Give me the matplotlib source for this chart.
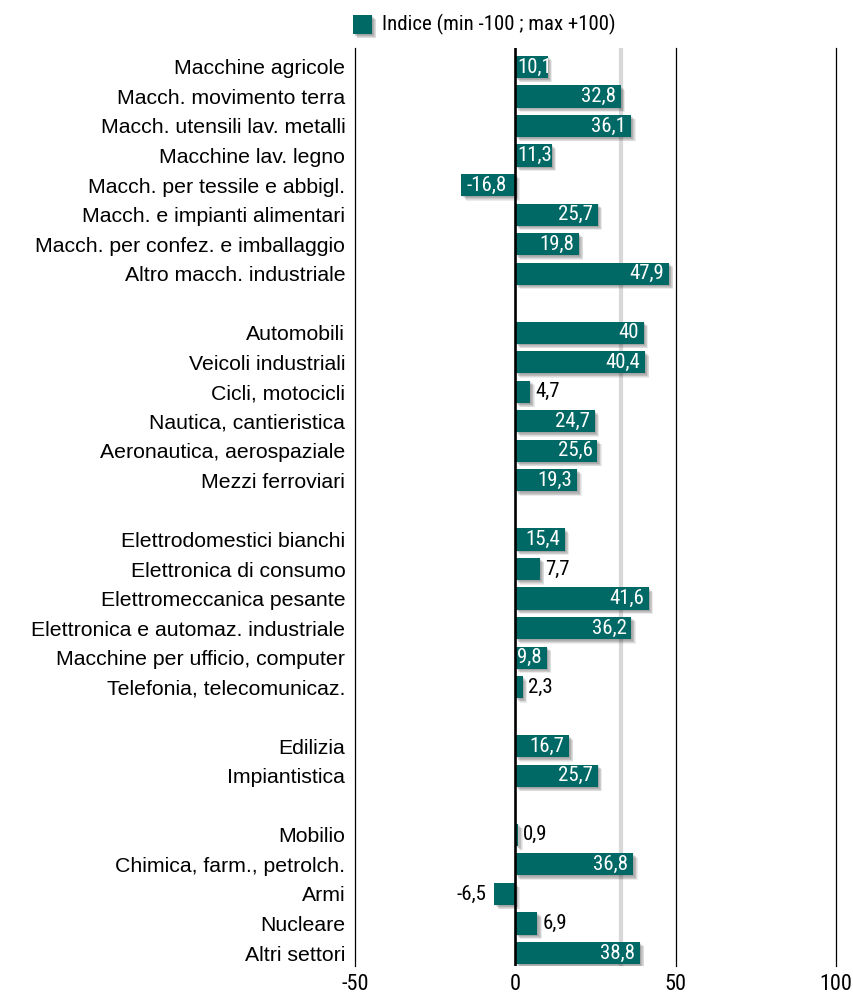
import matplotlib
matplotlib.use("Agg")
import numpy as np
import matplotlib.pyplot as plt
import matplotlib.patheffects as pe
from matplotlib.patches import Rectangle

# ---- dati ----
settori = [
    "Macchine agricole", "Macch. movimento terra", "Macch. utensili lav. metalli",
    "Macchine lav. legno", "Macch. per tessile e abbigl.", "Macch. e impianti alimentari",
    "Macch. per confez. e imballaggio", "Altro macch. industriale",
    "Automobili", "Veicoli industriali", "Cicli, motocicli", "Nautica, cantieristica",
    "Aeronautica, aerospaziale", "Mezzi ferroviari",
    "Elettrodomestici bianchi", "Elettronica di consumo", "Elettromeccanica pesante",
    "Elettronica e automaz. industriale", "Macchine per ufficio, computer",
    "Telefonia, telecomunicaz.",
    "Edilizia", "Impiantistica",
    "Mobilio", "Chimica, farm., petrolch.", "Armi", "Nucleare", "Altri settori",
]
indice = [
    10.1, 32.8, 36.1, 11.3, -16.8, 25.7, 19.8, 47.9,
    40, 40.4, 4.7, 24.7, 25.6, 19.3,
    15.4, 7.7, 41.6, 36.2, 9.8, 2.3,
    16.7, 25.7,
    0.9, 36.8, -6.5, 6.9, 38.8,
]
gruppo = [0] * 8 + [1] * 6 + [2] * 6 + [3] * 2 + [4] * 5

ticks = [-50, 0, 50, 100]
riferimento = 33

TEAL = "#006865"
NARROW = ["Roboto Condensed", "DejaVu Sans"]
SANS = ["Liberation Sans", "DejaVu Sans"]

# una riga vuota tra un gruppo e l'altro
ypos = np.arange(len(settori)) + np.array(gruppo)

fig = plt.figure(figsize=(8.54, 9.93), dpi=100)
ax = fig.add_axes([355 / 854, 27 / 993, 481 / 854, 918 / 993])

ombra = [pe.SimplePatchShadow(offset=(o, -o), shadow_rgbFace="#303030", alpha=0.09)
         for o in (0.7, 1.2, 1.7, 2.2, 2.7, 3.2)] + [pe.Normal()]

ax.axvline(riferimento, color="#d8d8d8", lw=3, zorder=0)
for t in ticks:
    if t != 0:
        ax.axvline(t, color="black", lw=0.9, zorder=0.5, clip_on=False)

bars = ax.barh(ypos, indice, height=0.75, color=TEAL, zorder=2)
for b in bars:
    b.set_path_effects(ombra)

ax.axvline(0, color="black", lw=1.9, zorder=3)

for y, v in zip(ypos, indice):
    lab = f"{v:g}".replace(".", ",")
    kw = dict(textcoords="offset points", va="center", fontsize=15,
              family=NARROW, zorder=4)
    if abs(v) >= 9:
        if v >= 12:
            ax.annotate(lab, (v, y), xytext=(-3.5, 0), ha="right", color="white", **kw)
        elif v > 0:
            # barra corta: testo appoggiato allo zero
            ax.annotate(lab, (0, y), xytext=(1.5, 0), ha="left", color="white", **kw)
        else:
            ax.annotate(lab, (v, y), xytext=(3.5, 0), ha="left", color="white", **kw)
    else:
        if v >= 0:
            ax.annotate(lab, (v, y), xytext=(3.5, 0), ha="left", color="black", **kw)
        else:
            ax.annotate(lab, (v, y), xytext=(-6, 0), ha="right", color="black", **kw)

ax.set_xlim(-50, 100)
ax.set_ylim(ypos[-1] + 0.44, -0.64)
ax.set_yticks(ypos)
ax.set_yticklabels(settori, family=SANS, fontsize=15.3)
ax.set_xticks(ticks)
ax.set_xticklabels([str(t) for t in ticks], family=NARROW, fontsize=16)
ax.tick_params(axis="both", length=0)
ax.tick_params(axis="y", pad=7)
ax.tick_params(axis="x", pad=5.5)
for s in ax.spines.values():
    s.set_visible(False)

# legenda
quad = Rectangle((353 / 854, 1 - 34 / 993), 19 / 854, 19 / 993,
                 transform=fig.transFigure, facecolor=TEAL, edgecolor="none")
quad.set_path_effects(ombra)
fig.patches.append(quad)
fig.text(382 / 854, 1 - 24.5 / 993, "Indice (min -100 ; max +100)",
         family=NARROW, fontsize=15, va="center", ha="left")

fig.savefig("out.png", dpi=100)
